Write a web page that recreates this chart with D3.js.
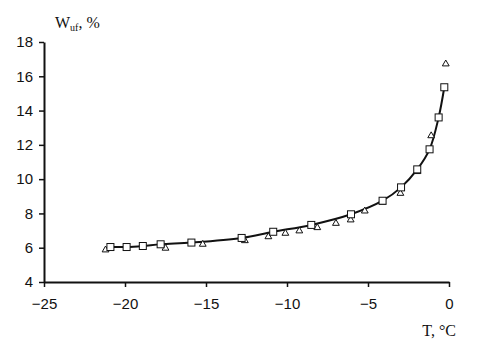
<!DOCTYPE html>
<html>
<head>
<meta charset="utf-8">
<script src="https://cdn.jsdelivr.net/npm/d3@7"></script>
<style>
  body { margin:0; background:#fff; }
  .tick text { font-family:"Liberation Sans", Arial, sans-serif; font-size:15px; fill:#111; }
  .title { font-family:"Liberation Serif", "Times New Roman", serif; font-size:16px; fill:#111; }
</style>
</head>
<body>
<svg id="chart" width="479" height="348"></svg>
<script>
// squares: measured points, joined by the fitted curve
const squareT = [-20.9, -19.9, -18.9, -17.8, -15.9, -12.8, -10.85, -8.5, -6.05, -4.1, -2.96, -1.96, -1.2, -0.64, -0.29];
const squareW = [6.04, 6.04, 6.1, 6.2, 6.3, 6.57, 6.93, 7.33, 7.95, 8.74, 9.52, 10.57, 11.74, 13.6, 15.36];
// triangles: second series, no line
const triT = [-21.2, -17.5, -15.2, -12.6, -11.15, -10.1, -9.24, -8.13, -6.98, -6.07, -5.2, -4.1, -3.0, -1.95, -1.1, -0.2];
const triW = [5.87, 5.97, 6.2, 6.41, 6.64, 6.84, 6.98, 7.17, 7.42, 7.62, 8.14, 8.65, 9.17, 10.44, 12.53, 16.72];
const xTicks = [-25, -20, -15, -10, -5, 0];
const yTicks = [4, 6, 8, 10, 12, 14, 16, 18];

const svg = d3.select("#chart");
const x = d3.scaleLinear().domain([-25, 0]).range([44, 449]);
const y = d3.scaleLinear().domain([4, 18]).range([282, 42]);

const xAxis = svg.append("g").attr("transform", "translate(0,282)")
  .call(d3.axisBottom(x).tickValues(xTicks).tickSizeOuter(0).tickSizeInner(5).tickPadding(11));
const yAxis = svg.append("g").attr("transform", "translate(44,0)")
  .call(d3.axisLeft(y).tickValues(yTicks).tickSizeOuter(0).tickSizeInner(5).tickPadding(6));
[xAxis, yAxis].forEach(a => {
  a.select(".domain").attr("stroke", "#111").attr("stroke-width", 2);
  a.selectAll(".tick line").attr("stroke", "#111").attr("stroke-width", 1.5);
});

// fitted curve through the squares
const sq = squareT.map((t, i) => ({t, w:squareW[i]}));
const tr = triT.map((t, i) => ({t, w:triW[i]}));
const line = d3.line().x(d => x(d.t)).y(d => y(d.w)).curve(d3.curveCatmullRom);
svg.append("path").datum(sq).attr("d", line).attr("fill", "none").attr("stroke", "#111").attr("stroke-width", 2);

svg.append("g").selectAll("path").data(tr).join("path")
  .attr("d", d3.symbol(d3.symbolTriangle, 20))
  .attr("transform", d => `translate(${x(d.t)},${y(d.w)})`)
  .attr("fill", "#fff").attr("stroke", "#111").attr("stroke-width", 1);

svg.append("g").selectAll("rect").data(sq).join("rect")
  .attr("x", d => x(d.t)-3.5).attr("y", d => y(d.w)-3.5).attr("width", 7).attr("height", 7)
  .attr("fill", "#fff").attr("stroke", "#111").attr("stroke-width", 1);

// axis titles
const yt = svg.append("text").attr("class", "title").attr("x", 55).attr("y", 28);
yt.append("tspan").text("W");
yt.append("tspan").attr("font-size", "10px").attr("dy", 3).text("uf");
yt.append("tspan").attr("dy", -3).text(", %");
svg.append("text").attr("class", "title").attr("x", 456).attr("y", 336).attr("text-anchor", "end").text("T, °C");
</script>
</body>
</html>
